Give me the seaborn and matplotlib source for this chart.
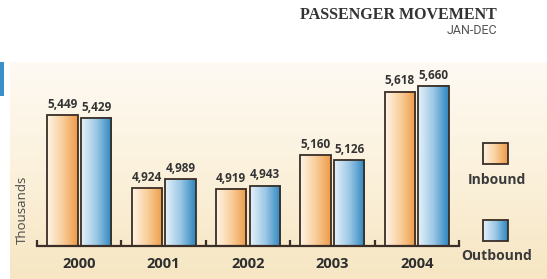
import numpy as np
import pandas as pd
import seaborn as sns
import matplotlib.pyplot as plt
from matplotlib.colors import LinearSegmentedColormap
from matplotlib.patches import Rectangle

# data (thousands of passengers)
years = ['2000', '2001', '2002', '2003', '2004']
inbound = [5449, 4924, 4919, 5160, 5618]
outbound = [5429, 4989, 4943, 5126, 5660]
series = ['Inbound', 'Outbound']

df = pd.DataFrame({
    'year': years * 2,
    'value': inbound + outbound,
    'dir': ['Inbound'] * len(years) + ['Outbound'] * len(years),
})

in_cmap = LinearSegmentedColormap.from_list('inb', ['#fef4e6', '#f9cf9c', '#ee9a48'])
out_cmap = LinearSegmentedColormap.from_list('outb', ['#e6f1f9', '#9cc8e6', '#2d86c0'])
edge = '#3a2e26'
grad = np.linspace(0, 1, 64).reshape(1, -1)
ymin, ymax = 4510, 5830

sns.set_theme(style='white')
W, H = 547, 279
fig = plt.figure(figsize=(W / 100, H / 100), dpi=100)

# background panel in pixel coordinates
bg = fig.add_axes([0, 0, 1, 1], zorder=0)
bg.set_xlim(0, W)
bg.set_ylim(H, 0)
bg.axis('off')
panel_cmap = LinearSegmentedColormap.from_list('panel', ['#fefaf3', '#fbf1dc', '#f6e6c3'])
bg.imshow(np.linspace(0, 1, 64).reshape(-1, 1), cmap=panel_cmap, aspect='auto',
          extent=(10, W, H, 62), zorder=0)
bg.add_patch(Rectangle((0, 62), 4, 34, color='#3a8fc8', lw=0))

# legend swatches
for (y0, cmap, label, ty) in [(143, in_cmap, series[0], 180), (220, out_cmap, series[1], 256)]:
    bg.imshow(grad, cmap=cmap, aspect='auto', extent=(483, 508, y0 + 21, y0), zorder=2)
    bg.add_patch(Rectangle((483, y0), 25, 21, fill=False, ec=edge, lw=1.3, zorder=3))
    bg.text(496.5, ty, label, ha='center', va='center', fontsize=10, fontweight='bold',
            color='#3a3a3a', family='Open Sans')

bg.text(497, 15, 'PASSENGER MOVEMENT', ha='right', va='center', fontsize=11.5,
        fontweight='bold', color='#333333', family='Liberation Serif')
bg.text(497, 30, 'JAN-DEC', ha='right', va='center', fontsize=9, color='#555555',
        family='Roboto')
bg.text(22, 210, 'Thousands', ha='center', va='center', rotation=90, fontsize=9.5,
        color='#4a4a4a', family='Open Sans')

# main chart
ax = fig.add_axes([37 / W, 1 - 246 / H, (459 - 37) / W, (246 - 62) / H], zorder=1)
ax.patch.set_alpha(0)
sns.barplot(data=df, x='year', y='value', hue='dir', order=years, hue_order=series,
            palette=['#f0a050', '#3a8fc8'], width=0.8, gap=0.1, ax=ax,
            edgecolor=edge, linewidth=1.3, legend=False)

for container, cmap in zip(ax.containers, [in_cmap, out_cmap]):
    for bar in container:
        x0 = bar.get_x()
        w, h = bar.get_width(), bar.get_height()
        bar.set_facecolor('none')
        bar.set_zorder(3)
        ax.imshow(grad, cmap=cmap, aspect='auto', extent=(x0, x0 + w, ymin, h), zorder=2)
    ax.bar_label(container, labels=[f'{v:,.0f}' for v in container.datavalues], padding=3,
                 fontsize=8.5, fontweight='bold', color='#333333', family='Open Sans')
ax.set_xlim(-0.5, 4.5)
ax.set_ylim(ymin, ymax)

for s in ['top', 'right', 'left']:
    ax.spines[s].set_visible(False)
ax.spines['bottom'].set_color(edge)
ax.spines['bottom'].set_linewidth(1.6)
ax.set_yticks([])
ax.set_xlabel('')
ax.set_ylabel('')
ax.set_xticks(range(len(years)))
ax.set_xticklabels(years, fontsize=10.5, fontweight='bold', color='#2e2e2e', family='Open Sans')
ax.set_xticks(np.arange(-0.5, len(years)), minor=True)
ax.tick_params(axis='x', which='major', length=0, pad=8)
ax.tick_params(axis='x', which='minor', direction='in', length=4, width=1.6, color=edge,
               bottom=True)

fig.savefig('out.png', dpi=100)
